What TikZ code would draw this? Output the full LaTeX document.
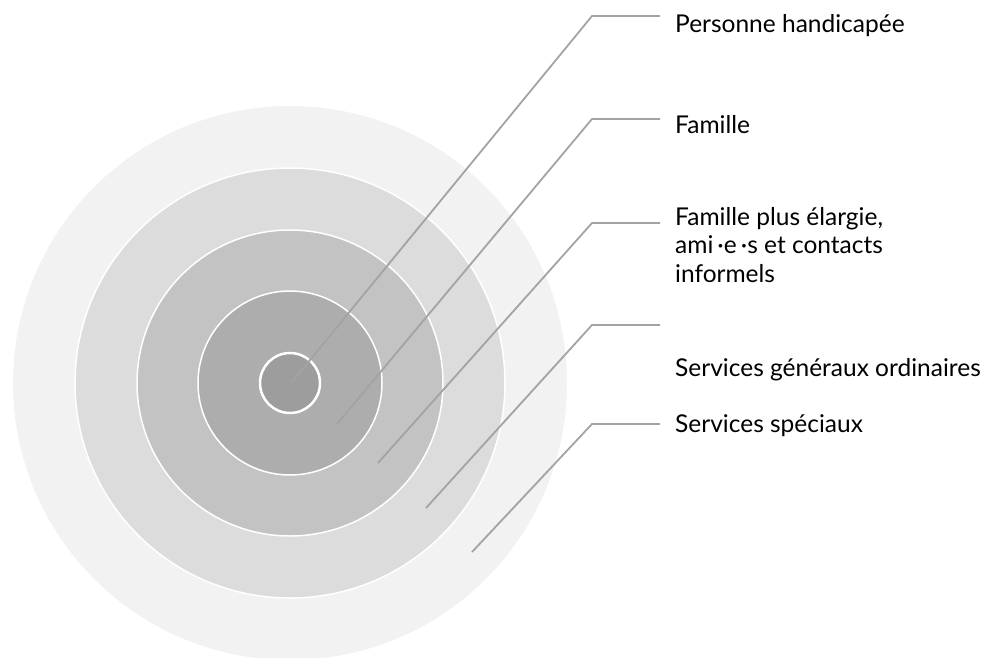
\documentclass[tikz,border=0pt]{standalone}
\usepackage{fontspec}
\setmainfont{Lato}

\definecolor{ringA}{HTML}{F2F2F2}
\definecolor{ringB}{HTML}{DCDCDC}
\definecolor{ringC}{HTML}{C3C3C3}
\definecolor{ringD}{HTML}{ADADAD}
\definecolor{ringE}{HTML}{9D9D9D}
\definecolor{leadgray}{HTML}{A3A3A3}

\tikzset{
  ring/.style={fill=#1, draw=white, line width=1.5pt},
  leader/.style={draw=leadgray, line width=1.8pt},
  ringtext/.style={anchor=base west, inner sep=0pt, align=left,
    font=\fontsize{24.5}{28.5}\selectfont}
}

\begin{document}
\begin{tikzpicture}[x=1pt, y=-1pt]
  \useasboundingbox (0,0) rectangle (997,657);

  % Circles
  \coordinate (C) at (290,383);
  \fill[ringA] (C) circle (277);
  \path[ring=ringB] (C) circle (215);
  \path[ring=ringC] (C) circle (153);
  \path[ring=ringD] (C) circle (92);
  \path[ring=ringE, line width=2.5pt] (C) circle (30);

  % Leader lines
  \coordinate (p1) at (292,382);
  \coordinate (p2) at (337,424);
  \coordinate (p3) at (378,463);
  \coordinate (p4) at (426,508);
  \coordinate (p5) at (472,552);
  \coordinate (b1) at (592,16);
  \coordinate (b2) at (592,119);
  \coordinate (b3) at (592,223);
  \coordinate (b4) at (592,325);
  \coordinate (b5) at (592,424);
  \coordinate (e1) at (660,16);
  \coordinate (e2) at (660,119);
  \coordinate (e3) at (660,223);
  \coordinate (e4) at (660,325);
  \coordinate (e5) at (660,424);
  \foreach \i in {1,...,5}
    \draw[leader] (p\i) -- (b\i) -- (e\i);

  % Labels
  \node[ringtext] (t1) at (675,32) {Personne handicapée};
  \node[ringtext] (t2) at (675,133) {Famille};
  \node[ringtext] (t3) at (675,282) {Famille plus élargie,\\ami\,·e\,·s et contacts\\informels};
  \node[ringtext] (t4) at (675,376) {Services généraux ordinaires};
  \node[ringtext] (t5) at (675,432) {Services spéciaux};
\end{tikzpicture}
\end{document}
